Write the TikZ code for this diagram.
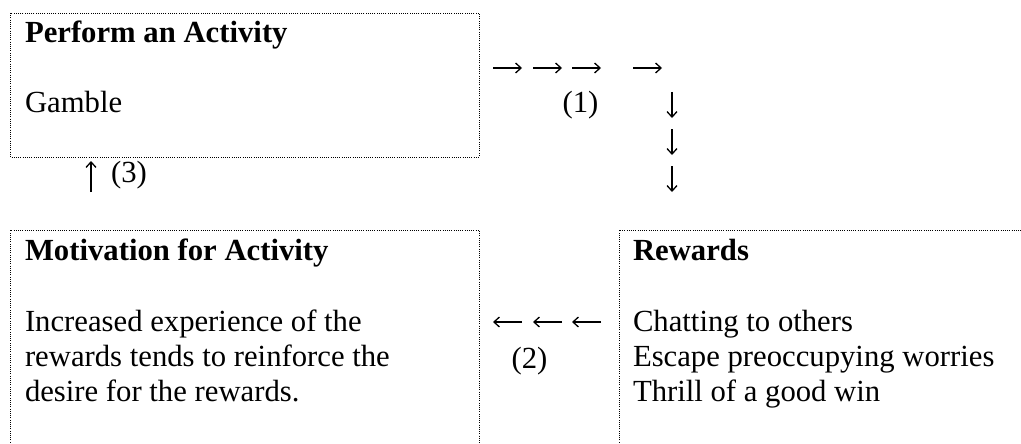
\documentclass[tikz,border=0pt]{standalone}
\usepackage{fontspec}
\setmainfont{Liberation Serif}
\usetikzlibrary{arrows.meta}
\begin{document}
\begin{tikzpicture}[x=1pt,y=-1pt,
  txt/.style={inner sep=0pt,outer sep=0pt,anchor=base west,
    font=\fontsize{30.7}{35.3}\selectfont},
  label/.style={inner sep=0pt,outer sep=0pt,anchor=center,
    font=\fontsize{30.7}{35.3}\selectfont},
  head/.style={txt,font=\fontsize{30.7}{35.3}\selectfont\bfseries},
  border/.style={line width=0.9pt,dash pattern=on 0.9pt off 1.3pt},
  arr/.style={line width=1.3pt,-{Straight Barb[length=5.5pt,width=10pt,line width=1.3pt]}}]
\useasboundingbox (0,0) rectangle (1021,444);
\clip (0,0) rectangle (1021,444);

% cell borders
\draw[border] (10.5,13) rectangle (479,157);
\draw[border] (10.5,460) -- (10.5,230) -- (479,230) -- (479,460);
\draw[border] (619,460) -- (619,230) -- (1040,230);

% Perform an Activity
\node[head] (pTitle) at (25,43) {Perform an Activity};
\node[txt]  (pBody)  at (25,113) {Gamble};

% Motivation for Activity
\node[head] (mTitle) at (25,260) {Motivation for Activity};
\node[txt]  (mLine1) at (25,331) {Increased experience of the};
\node[txt]  (mLine2) at (25,366.5) {rewards tends to reinforce the};
\node[txt]  (mLine3) at (25,401.5) {desire for the rewards.};

% Rewards
\node[head] (rTitle) at (633,260) {Rewards};
\node[txt]  (rLine1) at (633,331) {Chatting to others};
\node[txt]  (rLine2) at (633,366.5) {Escape preoccupying worries};
\node[txt]  (rLine3) at (633,401.5) {Thrill of a good win};

% step (1): activity to rewards
\coordinate (r1a) at (493,68);  \coordinate (r1b) at (522,68);
\coordinate (r2a) at (533,68);  \coordinate (r2b) at (562,68);
\coordinate (r3a) at (572,68);  \coordinate (r3b) at (601,68);
\coordinate (r4a) at (633,68);  \coordinate (r4b) at (662,68);
\draw[arr] (r1a) -- (r1b);
\draw[arr] (r2a) -- (r2b);
\draw[arr] (r3a) -- (r3b);
\draw[arr] (r4a) -- (r4b);
\node[label] (one) at (580.5,105.5) {(1)};
\coordinate (d1a) at (672,92);  \coordinate (d1b) at (672,118);
\coordinate (d2a) at (672,129); \coordinate (d2b) at (672,155);
\coordinate (d3a) at (672,166); \coordinate (d3b) at (672,192);
\draw[arr] (d1a) -- (d1b);
\draw[arr] (d2a) -- (d2b);
\draw[arr] (d3a) -- (d3b);

% step (2): rewards to motivation
\coordinate (l1a) at (522,322); \coordinate (l1b) at (493,322);
\coordinate (l2a) at (562,322); \coordinate (l2b) at (533,322);
\coordinate (l3a) at (601,322); \coordinate (l3b) at (572,322);
\draw[arr] (l1a) -- (l1b);
\draw[arr] (l2a) -- (l2b);
\draw[arr] (l3a) -- (l3b);
\node[label] (two) at (529.5,361) {(2)};

% step (3): motivation back to activity
\coordinate (u1a) at (91,192); \coordinate (u1b) at (91,161);
\draw[arr] (u1a) -- (u1b);
\node[label] (three) at (129,175) {(3)};
\end{tikzpicture}
\end{document}
